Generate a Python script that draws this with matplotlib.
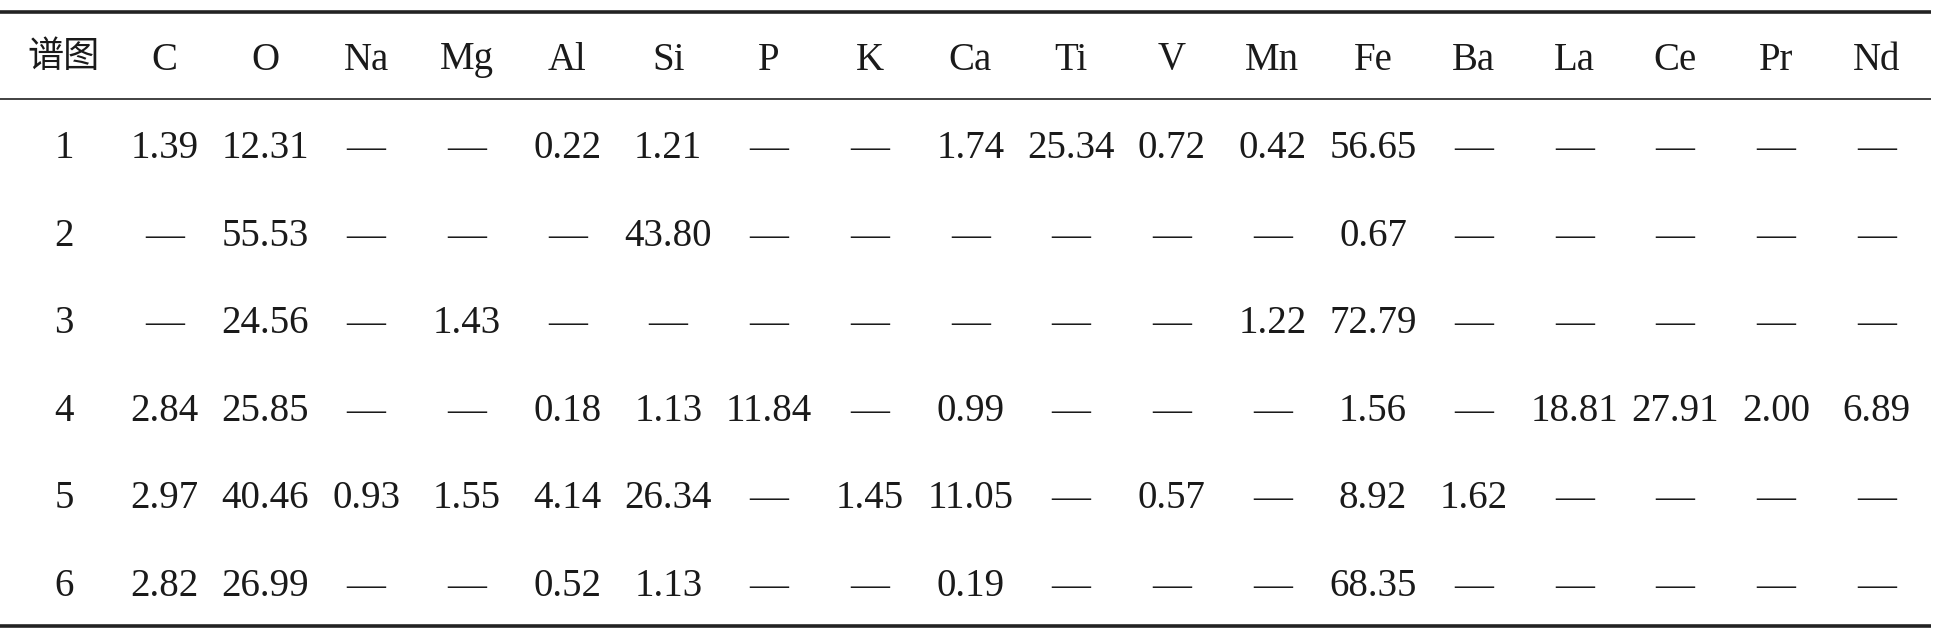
import matplotlib
matplotlib.use("Agg")
from matplotlib import pyplot as plt

elements = ["C", "O", "Na", "Mg", "Al", "Si", "P", "K", "Ca", "Ti", "V",
            "Mn", "Fe", "Ba", "La", "Ce", "Pr", "Nd"]
spectra = ["1", "2", "3", "4", "5", "6"]

# None = "—" in the table
row1 = [1.39, 12.31, None, None, 0.22, 1.21, None, None, 1.74, 25.34, 0.72, 0.42, 56.65, None, None, None, None, None]
row2 = [None, 55.53, None, None, None, 43.80, None, None, None, None, None, None, 0.67, None, None, None, None, None]
row3 = [None, 24.56, None, 1.43, None, None, None, None, None, None, None, 1.22, 72.79, None, None, None, None, None]
row4 = [2.84, 25.85, None, None, 0.18, 1.13, 11.84, None, 0.99, None, None, None, 1.56, None, 18.81, 27.91, 2.00, 6.89]
row5 = [2.97, 40.46, 0.93, 1.55, 4.14, 26.34, None, 1.45, 11.05, None, 0.57, None, 8.92, 1.62, None, None, None, None]
row6 = [2.82, 26.99, None, None, 0.52, 1.13, None, None, 0.19, None, None, None, 68.35, None, None, None, None, None]
rows = [row1, row2, row3, row4, row5, row6]

W, H = 1937, 633
fig = plt.figure(figsize=(W / 100, H / 100), dpi=100)
ax = fig.add_axes([0, 0, 1, 1])
ax.set_xlim(0, W)
ax.set_ylim(H, 0)
ax.axis("off")

serif = ["Liberation Serif", "DejaVu Serif"]
cjk = ["Noto Sans CJK SC", "DejaVu Sans"]
fs = 28
ink = "#1a1a1a"

x0, dx = 64, 100.7
col_x = [x0 + i * dx for i in range(len(elements) + 1)]
head_y = 60
row_y0, dy = 149, 87.4

# rules
ax.plot([0, W - 6], [12, 12], color="#222222", lw=2.6, solid_capstyle="butt")
ax.plot([0, W - 6], [99, 99], color="#333333", lw=1.3, solid_capstyle="butt")
ax.plot([0, W - 6], [626, 626], color="#222222", lw=2.6, solid_capstyle="butt")

# header
ax.text(col_x[0], head_y - 3, "谱图", family=cjk, fontsize=26, ha="center", va="center", color=ink)
for i, el in enumerate(elements):
    ax.text(col_x[i + 1], head_y, el, family=serif, fontsize=fs, ha="center", va="center", color=ink)

# body
for j, (lab, vals) in enumerate(zip(spectra, rows)):
    y = row_y0 + j * dy
    ax.text(col_x[0], y, lab, family=serif, fontsize=fs, ha="center", va="center", color=ink)
    for i, v in enumerate(vals):
        s = "—" if v is None else f"{v:.2f}"
        ax.text(col_x[i + 1], y, s, family=serif, fontsize=fs, ha="center", va="center", color=ink)

fig.savefig("out.png", dpi=100, facecolor="white")
